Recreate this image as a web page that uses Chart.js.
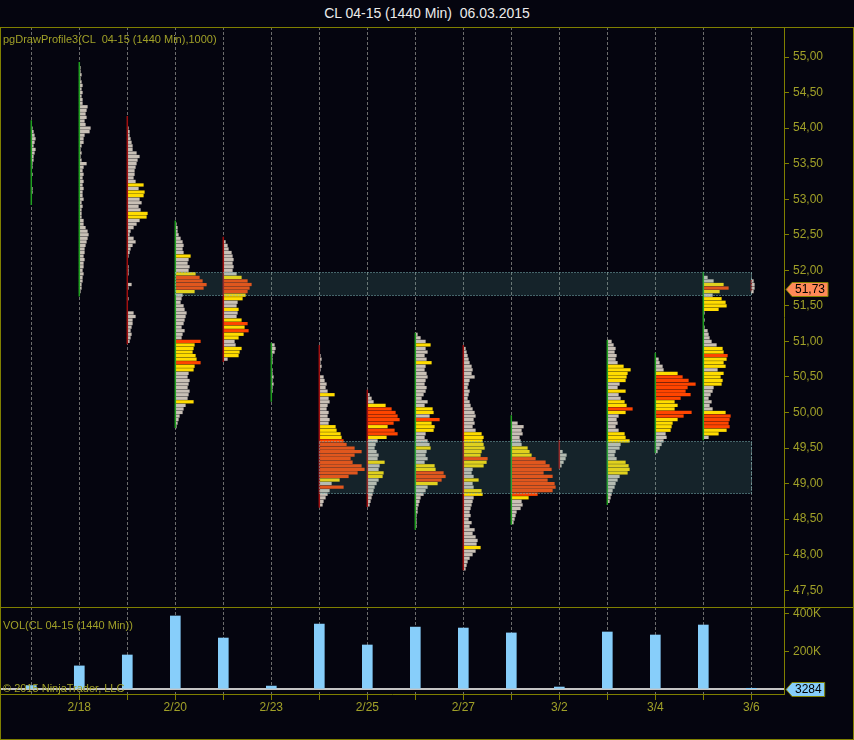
<!DOCTYPE html>
<html>
<head>
<meta charset="utf-8">
<title>CL 04-15 (1440 Min)</title>
<script src="https://cdn.jsdelivr.net/npm/chart.js@4.4.1/dist/chart.umd.min.js"></script>
<style>
  html, body { margin: 0; padding: 0; background: #05050f; }
  #wrap { position: relative; width: 854px; height: 740px; overflow: hidden; font-family: "Liberation Sans", Arial, sans-serif; }
  #title { position: absolute; left: 0; top: 5px; width: 854px; text-align: center; color: #ececec; font-size: 14px; white-space: pre; }
  .panel { position: absolute; left: 0; width: 854px; }
  #pricePanel { top: 27px; height: 580px; }
  #volPanel { top: 607px; height: 133px; }
  .lbl { position: absolute; left: 3px; color: #a0a028; font-size: 11px; white-space: pre; pointer-events: none; }
  #frame { position: absolute; left: 0; top: 27px; width: 854px; height: 713px; box-sizing: border-box; border: 1px solid #808000; pointer-events: none; }
  #divider { position: absolute; left: 0; top: 607px; width: 854px; height: 1px; background: #808000; }
</style>
</head>
<body>
<div id="wrap">
  <div id="title">CL 04-15 (1440 Min)  06.03.2015</div>
  <div class="panel" id="pricePanel"><canvas id="priceChart"></canvas></div>
  <div class="panel" id="volPanel"><canvas id="volChart"></canvas></div>
  <div id="frame"></div>
  <div id="divider"></div>
  <div class="lbl" style="top:33px">pgDrawProfile3(CL  04-15 (1440 Min),1000)</div>
  <div class="lbl" style="top:619px">VOL(CL 04-15 (1440 Min))</div>
  <div class="lbl" style="top:682px">© 2015 NinjaTrader, LLC</div>
</div>
<script>
// sessions
const dates = ['2/17', '2/18', '2/19', '2/20', '2/22', '2/23', '2/24', '2/25', '2/26', '2/27', '3/1', '3/2', '3/3', '3/4', '3/5', '3/6'];
const dayHigh = [54.11, 54.93, 54.17, 52.70, 52.47, 50.98, 50.95, 50.32, 51.12, 50.95, 49.96, 49.61, 51.02, 50.84, 51.98, 51.86];
const dayLow = [52.92, 51.63, 50.96, 49.78, 50.71, 50.15, 48.66, 48.67, 48.35, 47.78, 48.42, 49.21, 48.70, 49.43, 49.61, 51.70];
const dayUp = [1, 1, 0, 1, 0, 1, 0, 0, 1, 0, 1, 0, 1, 1, 1, 0];
const dayVolume = [20000, 124000, 182000, 389000, 272000, 17000, 346000, 235000, 330000, 325000, 299000, 12000, 304000, 288000, 341000, 3284];

// volume at price, 5 cent bins, from profileTop downwards
const PRICE_STEP = 0.05;
const profileTop = [54.00, 54.85, 54.00, 52.65, 52.40, 50.95, 50.80, 50.25, 51.10, 50.90, 49.85, 49.45, 51.00, 50.75, 51.90, 51.85];
const profiles = [
  [1,2,3,4,3,2,4,3,2,2,1,1,0,1,0,0,0,1,1],
  [1,1,2,1,2,3,2,3,2,3,3,8,7,6,7,5,6,11,10,5,4,4,2,1,2,1,2,7,4,3,4,3,4,3,4,3,3,4,2,3,2,2,2,4,4,6,8,9,8,7,6,5,5,4,5,4,4,3,4,3,3,2,2,1],
  [1,2,2,3,4,5,5,9,12,10,9,8,7,7,6,8,16,11,17,16,12,14,11,13,20,19,12,9,6,3,2,6,8,5,3,2,1,0,0,1,1,1,0,0,4,1,0,0,1,0,0,0,6,8,5,5,4,3,4,3,2],
  [1,2,2,3,5,7,8,7,8,15,13,12,14,13,20,24,27,31,28,19,7,6,5,8,9,11,10,9,8,6,9,7,6,25,19,18,17,20,21,25,19,18,13,12,14,13,12,14,13,12,18,10,8,7,4,3,2,1],
  [2,4,5,8,9,10,9,10,9,13,18,24,28,26,24,22,19,14,13,15,14,13,18,24,21,25,20,15,11,12,18,16,15,4],
  [3,4,3,1,1,1,0,1,1,2,1,2,1,1],
  [1,2,1,2,1,0,4,5,7,6,8,15,9,10,8,7,9,8,10,9,16,17,21,22,24,27,35,42,35,31,33,42,45,38,29,20,12,24,10,8,6,4,3],
  [2,4,6,18,24,28,30,32,26,20,27,30,19,10,8,7,9,11,10,17,12,11,16,15,11,9,7,6,5,4,3,2],
  [2,5,10,15,10,12,9,11,16,10,9,11,12,10,9,11,10,8,6,12,9,17,18,14,24,16,19,18,10,9,12,14,15,11,10,12,9,19,20,28,30,26,22,12,10,8,5,4,3,2,2,1,1,1,1],
  [2,3,4,5,6,8,9,8,11,6,5,4,6,5,4,6,7,9,11,12,10,11,9,12,18,20,19,20,21,18,17,24,23,20,9,8,10,15,9,10,18,19,10,9,8,7,6,7,5,8,6,11,9,12,14,13,17,12,9,6,4,3,2],
  [6,12,10,11,8,9,10,16,18,20,24,34,38,40,32,41,36,43,44,41,26,17,10,11,9,5,4,3,2],
  [3,7,6,4,2],
  [4,6,8,7,9,8,10,16,23,20,19,18,12,10,18,11,13,17,19,25,18,11,9,10,8,11,17,18,22,13,12,8,7,9,18,21,22,20,12,10,8,7,5,4,3,2],
  [3,4,7,8,22,27,33,40,32,30,35,25,19,22,19,36,28,22,17,16,15,10,11,8,6,4,2],
  [4,10,20,25,16,9,18,22,23,15,1,0,1,0,1,4,5,6,8,13,19,20,24,23,20,22,14,20,17,19,18,10,9,7,5,8,6,9,22,27,26,25,26,23,15,5],
  [2,3,3,2]
];

// highlighted zones (session index from/to, price band)
const zoneStart = [3, 6];
const zoneEnd = [15, 15];
const zoneHigh = [51.97, 49.60];
const zoneLow = [51.65, 48.87];

const priceTicks = [47.5, 48, 48.5, 49, 49.5, 50, 50.5, 51, 51.5, 52, 52.5, 53, 53.5, 54, 54.5, 55];
const volTicks = [0, 200000, 400000];
const lastPrice = 51.73;

const FONT = '"Liberation Sans", Arial, sans-serif';
const OLIVE = '#808000';
const TEXT = '#a0a028';
const GRID = '#6c6c6c';
const X_MIN = -0.652, X_MAX = 15.681;
const DAY_PX = 48; // profile units per session slot

Chart.defaults.font.family = FONT;
Chart.defaults.font.size = 12;

function levelColor(v) {
  if (v >= 24) return '#ff4500';
  if (v >= 15) return '#ffdc00';
  return '#c9c0b6';
}

const profileBars = [];
profiles.forEach((vols, d) => {
  vols.forEach((v, k) => {
    if (!v) return;
    const price = +(profileTop[d] - k * PRICE_STEP).toFixed(2);
    profileBars.push({ y: price, x: [d, d + v / DAY_PX], v: v });
  });
});

const upRanges = [], downRanges = [];
dayHigh.forEach((h, d) => {
  const target = dayUp[d] ? upRanges : downRanges;
  target.push({ x: d, y: h }, { x: d, y: dayLow[d] }, { x: d, y: null });
});

const zonePlugin = {
  id: 'zones',
  afterDatasetsDraw(chart) {
    const { ctx, scales: { x, y } } = chart;
    ctx.save();
    zoneStart.forEach((s, k) => {
      const x1 = Math.round(x.getPixelForValue(s)) + 0.5;
      const x2 = Math.round(x.getPixelForValue(zoneEnd[k])) + 0.5;
      const y1 = Math.round(y.getPixelForValue(zoneHigh[k])) + 0.5;
      const y2 = Math.round(y.getPixelForValue(zoneLow[k])) + 0.5;
      ctx.fillStyle = 'rgba(89,163,160,0.19)';
      ctx.fillRect(x1, y1, x2 - x1, y2 - y1);
      ctx.setLineDash([1, 2]);
      ctx.strokeStyle = '#7fb9bb';
      ctx.lineWidth = 1;
      ctx.strokeRect(x1, y1, x2 - x1, y2 - y1);
    });
    ctx.restore();
  }
};

const tagPlugin = {
  id: 'lastTag',
  afterDraw(chart, args, opts) {
    const { ctx, chartArea } = chart;
    const y = Math.round(chart.scales.y.getPixelForValue(opts.value)) + 0.5;
    const x0 = chartArea.right + 2;
    ctx.save();
    ctx.font = '12px ' + FONT;
    const tw = ctx.measureText(opts.text).width;
    const h = 14;
    ctx.beginPath();
    ctx.moveTo(x0, y);
    ctx.lineTo(x0 + 6, y - h / 2);
    ctx.lineTo(x0 + 6 + tw + 6, y - h / 2);
    ctx.lineTo(x0 + 6 + tw + 6, y + h / 2);
    ctx.lineTo(x0 + 6, y + h / 2);
    ctx.closePath();
    ctx.fillStyle = opts.fill;
    ctx.fill();
    ctx.strokeStyle = OLIVE;
    ctx.lineWidth = 1;
    ctx.stroke();
    ctx.fillStyle = '#000';
    ctx.textBaseline = 'middle';
    ctx.fillText(opts.text, x0 + 9, y + 0.5);
    ctx.restore();
  }
};

const dayTicks = s => { s.ticks = dates.map((d, i) => ({ value: i })); };

new Chart(document.getElementById('priceChart'), {
  type: 'line',
  data: {
    datasets: [
      {
        type: 'bar',
        indexAxis: 'y',
        data: profileBars,
        barThickness: 2.6,
        borderWidth: 0,
        backgroundColor: ctx => levelColor(ctx.raw ? ctx.raw.v : 0),
        order: 2
      },
      { type: 'line', data: upRanges, borderColor: '#20a020', borderWidth: 1.5, pointRadius: 0, spanGaps: false, order: 1 },
      { type: 'line', data: downRanges, borderColor: '#a01010', borderWidth: 1.5, pointRadius: 0, spanGaps: false, order: 1 }
    ]
  },
  options: {
    responsive: true,
    maintainAspectRatio: false,
    animation: false,
    layout: { padding: 0 },
    plugins: {
      legend: { display: false },
      tooltip: { enabled: false },
      lastTag: { value: lastPrice, text: lastPrice.toFixed(2).replace('.', ','), fill: '#ff8a58' }
    },
    scales: {
      x: {
        type: 'linear', min: X_MIN, max: X_MAX, offset: false,
        afterBuildTicks: dayTicks,
        afterFit: s => { s.height = 0; s.paddingLeft = 0; s.paddingRight = 0; },
        ticks: { display: false },
        grid: { color: GRID, drawTicks: false, offset: false },
        border: { display: false, dash: [3, 2] }
      },
      y: {
        type: 'linear', position: 'right', min: 47.264, max: 55.422, offset: false,
        afterBuildTicks: s => { s.ticks = priceTicks.map(v => ({ value: v })); },
        afterFit: s => { s.width = 70; s.paddingTop = 0; s.paddingBottom = 0; },
        ticks: { color: TEXT, padding: 4, callback: v => v.toFixed(2).replace('.', ',') },
        grid: { drawOnChartArea: false, tickLength: 5, tickColor: OLIVE, offset: false },
        border: { color: OLIVE }
      }
    }
  },
  plugins: [zonePlugin, tagPlugin]
});

new Chart(document.getElementById('volChart'), {
  type: 'bar',
  data: {
    datasets: [{
      data: dayVolume.map((v, i) => ({ x: i, y: v })),
      backgroundColor: '#87cefa',
      barThickness: 10,
      borderWidth: 0
    }]
  },
  options: {
    responsive: true,
    maintainAspectRatio: false,
    animation: false,
    layout: { padding: 0 },
    plugins: {
      legend: { display: false },
      tooltip: { enabled: false },
      lastTag: { value: dayVolume[dayVolume.length - 1], text: String(dayVolume[dayVolume.length - 1]), fill: '#87cefa' }
    },
    scales: {
      x: {
        type: 'linear', min: X_MIN, max: X_MAX, offset: false,
        afterBuildTicks: dayTicks,
        afterFit: s => { s.height = 46; s.paddingLeft = 0; s.paddingRight = 0; },
        ticks: { color: TEXT, padding: 0, maxRotation: 0, autoSkip: false, callback: v => (v % 2 === 1 ? dates[v] : '') },
        grid: { color: GRID, tickLength: 6, tickColor: c => (c.tick && c.tick.value === 0 ? 'rgba(0,0,0,0)' : OLIVE), offset: false },
        border: { color: OLIVE, dash: [3, 2] }
      },
      y: {
        type: 'linear', position: 'right', min: -25000, max: 436600, offset: false,
        afterBuildTicks: s => { s.ticks = volTicks.map(v => ({ value: v })); },
        afterFit: s => { s.width = 70; s.paddingTop = 0; s.paddingBottom = 0; },
        ticks: { color: TEXT, padding: 4, callback: v => (v ? (v / 1000) + 'K' : '') },
        grid: {
          color: c => (c.tick && c.tick.value === 0 ? '#c4c4c4' : 'rgba(0,0,0,0)'),
          lineWidth: c => (c.tick && c.tick.value === 0 ? 2 : 1),
          tickLength: 5,
          tickColor: c => (c.tick && c.tick.value === 0 ? 'rgba(0,0,0,0)' : OLIVE),
          offset: false
        },
        border: { color: OLIVE }
      }
    }
  },
  plugins: [tagPlugin]
});
</script>
</body>
</html>
